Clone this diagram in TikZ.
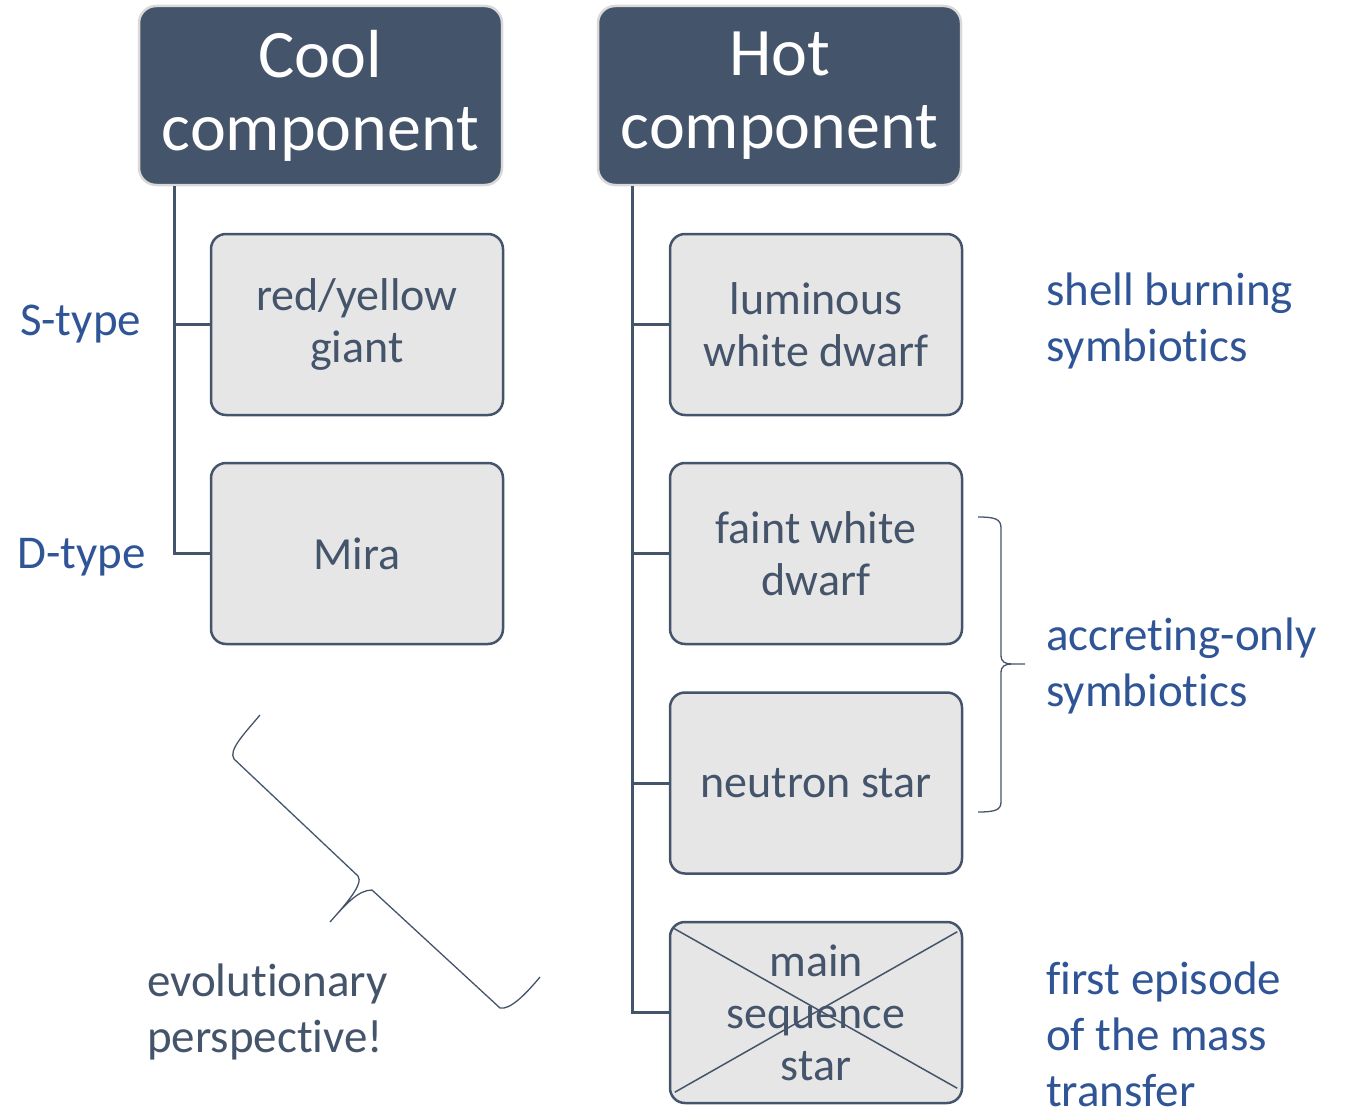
\documentclass[tikz,border=0pt]{standalone}
\usepackage{fontspec}
\setmainfont[Ligatures=NoCommon]{Carlito}
\definecolor{slate}{HTML}{44546A}
\definecolor{boxgray}{HTML}{E7E6E6}
\definecolor{rimgray}{HTML}{D9D9D9}
\definecolor{tagblue}{HTML}{2F5597}

\begin{document}
\begin{tikzpicture}[x=1pt, y=-1pt,
        head/.style={draw=rimgray, line width=2.5pt, fill=slate, rounded corners=17pt, minimum width=363pt, minimum height=179pt, inner sep=0pt, text=white, align=center, font=\fontsize{68}{73}\selectfont},
        objbox/.style={draw=slate, line width=2.5pt, fill=boxgray, rounded corners=15pt, minimum width=292pt, minimum height=181pt, inner sep=0pt, text=slate, align=center, font=\fontsize{46}{52}\selectfont},
        tag/.style={text=tagblue, align=left, inner sep=0pt, font=\fontsize{47}{56}\selectfont},
        link/.style={draw=slate, line width=3pt},
        curly/.style={draw=slate, line width=1.3pt}]
        \useasboundingbox (0,0) rectangle (1345,1116);

        % headers
        \node[head] (cool) at (320.5,95.5) {Cool\\component};
        \node[head] (hot) at (779.5,95.5) {Hot\\component};

        % cool side
        \node[objbox] (giant) at (357,324.5) {red/yellow\\giant};
        \node[objbox] (mira) at (357,553.5) {Mira};
        \coordinate (ctrunk) at (174,186);
        \draw[link] (ctrunk) |- (mira.west);
        \draw[link] (giant.west) -| (ctrunk);

        % hot side
        \node[objbox] (lwd) at (816,324.5) {luminous\\white dwarf};
        \node[objbox] (fwd) at (816,553.5) {faint white\\dwarf};
        \node[objbox] (ns) at (816,783) {neutron star};
        \node[objbox] (ms) at (816,1012.5) {main\\sequence\\star};
        \draw[slate, line width=1.5pt] ([shift={(4,7)}]ms.north west) -- ([shift={(-6,-16)}]ms.south east);
        \draw[slate, line width=1.5pt] ([shift={(-6,11)}]ms.north east) -- ([shift={(6,-12)}]ms.south west);
        \coordinate (htrunk) at (632,186);
        \draw[link] (htrunk) |- (ms.west);
        \foreach \n in {lwd,fwd,ns}
            \draw[link] (\n.west) -| (htrunk);

        % labels (base = last line)
        \node[tag, anchor=base west] (stype) at (20,335) {S-type};
        \node[tag, anchor=base west] (dtype) at (17,568) {D-type};
        \node[tag, anchor=base west] (shell) at (1046,361) {shell burning\\symbiotics};
        \node[tag, anchor=base west] (accr) at (1046,706) {accreting-only\\symbiotics};
        \node[tag, anchor=base west] (first) at (1046,1106) {first episode\\of the mass\\transfer};
        \node[tag, anchor=base west, text=slate] (evol) at (147,1052) {evolutionary\\perspective!};

        % braces
        \draw[curly] (978,517) .. controls (995,517) and (1001,519) .. (1001,528) -- (1001,655)
            .. controls (1001,662) and (1005,664) .. (1012,664) -- (1025,664) -- (1012,664)
            .. controls (1005,664) and (1001,666) .. (1001,673) -- (1001,802)
            .. controls (1001,810) and (995,812) .. (978,812);
        \draw[curly] (260,715) .. controls (245,733) and (228,750) .. (234,759) -- (358,876)
            .. controls (364,884) and (345,905) .. (330,922)
            .. controls (345,905) and (358,890) .. (372,890) -- (500,1008)
            .. controls (510,1010) and (525,995) .. (540,977);
    \end{tikzpicture}
\end{document}
